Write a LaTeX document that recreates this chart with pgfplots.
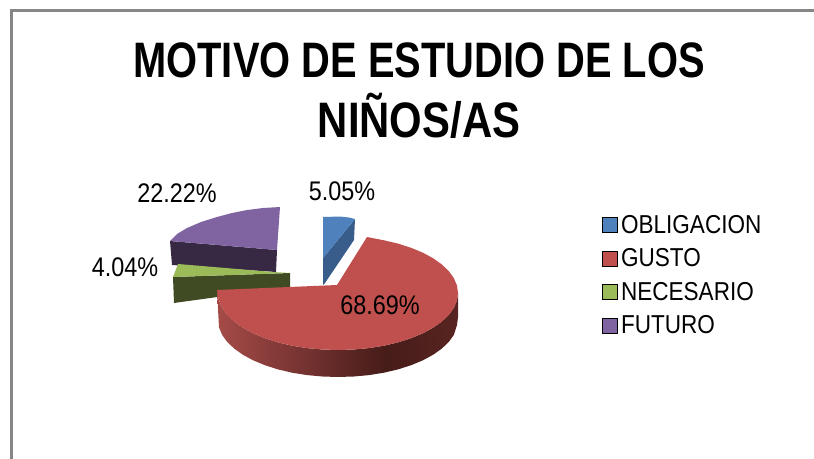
\documentclass[border=0pt]{standalone}
\usepackage{fontspec}
\setmainfont{Liberation Sans}
\newfontfamily\titlefont[FakeStretch=0.80]{Liberation Sans Bold}
\newfontfamily\titlefontb[FakeStretch=0.84]{Liberation Sans Bold}
\newfontfamily\labelfont[FakeStretch=0.87]{Liberation Sans}
\usepackage{pgfplots}
\pgfplotsset{compat=1.18}
\definecolor{frame}{RGB}{134,134,134}
\definecolor{azul}{RGB}{79,129,189}
\definecolor{azulosc}{RGB}{56,93,138}
\definecolor{rojo}{RGB}{192,80,77}
\definecolor{verde}{RGB}{155,187,89}
\definecolor{verdeosc}{RGB}{64,75,35}
\definecolor{morado}{RGB}{128,100,162}
\definecolor{moradoosc}{RGB}{55,40,68}
\definecolor{pared1}{RGB}{165,75,72}
\definecolor{pared2}{RGB}{120,52,50}
\definecolor{pared3}{RGB}{70,28,25}
\definecolor{pared4}{RGB}{88,36,33}
\pgfdeclarehorizontalshading{paredroja}{100bp}{
  color(0bp)=(pared1);
  color(25bp)=(pared1);
  color(42bp)=(pared2);
  color(60bp)=(pared3);
  color(75bp)=(pared4);
  color(100bp)=(pared4)}
\begin{document}
\begin{tikzpicture}
\begin{axis}[
    hide axis,
    scale only axis,
    width=814bp,
    height=459bp,
    xmin=0, xmax=814,
    ymin=0, ymax=459,
    y dir=reverse,
    legend cell align=left,
    legend style={
        at={(axis cs:601.5,213)},
        anchor=north west,
        draw=none,
        fill=none,
        inner sep=0pt,
        font=\labelfont\fontsize{26}{28}\selectfont,
        row sep=10pt,
    },
    legend image code/.code={\fill[#1] (0bp,-7.5bp) rectangle (15bp,7.5bp);\path (17bp,0bp);},
]
\path (axis cs:0,0) rectangle (axis cs:814,459);
% marco
\addplot[frame,line width=3bp,forget plot] coordinates {(11.5,459) (11.5,10.5) (814,10.5)};
% FUTURO
\addplot[fill=moradoosc,draw=none,forget plot] coordinates {(170,241) (172,265) (276,272) (277,250)};
\addplot[fill=morado,draw=none,forget plot] coordinates {(280,207) (263,208) (247,210) (232,213) (217,217) (201,222) (187,228) (177,234) (170,241) (277,250)};
% NECESARIO
\addplot[fill=verdeosc,draw=none,forget plot] coordinates {(173,277) (174,303) (290,287) (290,273)};
\addplot[fill=verde,draw=none,forget plot] coordinates {(178,264) (173,277) (290,273) (273,272)};
% OBLIGACION
\addplot[fill=azulosc,draw=none,forget plot] coordinates {(355,219) (354,240) (325,283) (323,285) (323,258)};
\addplot[fill=azul,draw=none,forget plot] coordinates {(323,217) (340,216.5) (349,217.5) (355,219) (323,258)};
% GUSTO
\addplot[shade,shading=paredroja,draw=none,forget plot] coordinates {
  (458,293) (457,300.4) (453.9,307.8) (448.9,314.8) (441.9,321.5) (433.2,327.7)
  (422.9,333.3) (411.1,338.2) (398,342.4) (383.9,345.7) (369.1,348.1) (353.7,349.5)
  (338,350) (322.3,349.5) (306.9,348.1) (292.1,345.7) (278,342.4) (264.9,338.2)
  (253.1,333.3) (242.8,327.7) (234.1,321.5) (227.1,314.8) (222.1,307.8) (219,300.4)
  (217,290)
  (219,327.4) (222.1,334.8) (227.1,341.8) (234.1,348.5) (242.8,354.7) (253.1,360.3)
  (264.9,365.2) (278,369.4) (292.1,372.7) (306.9,375.1) (322.3,376.5) (338,377)
  (353.7,376.5) (369.1,375.1) (383.9,372.7) (398,369.4) (411.1,365.2) (422.9,360.3)
  (433.2,354.7) (441.9,348.5) (448.9,341.8) (453.9,334.8) (457,325) (458,317)};
\addplot[fill=rojo,draw=none,forget plot] coordinates {
  (337,285) (367,237) (383.9,240.3) (398,243.6) (411.1,247.8) (422.9,252.7) (433.2,258.3)
  (441.9,264.5) (448.9,271.2) (453.9,278.2) (457,285.6) (458,293) (457,300.4)
  (453.9,307.8) (448.9,314.8) (441.9,321.5) (433.2,327.7) (422.9,333.3) (411.1,338.2)
  (398,342.4) (383.9,345.7) (369.1,348.1) (353.7,349.5) (338,350) (322.3,349.5)
  (306.9,348.1) (292.1,345.7) (278,342.4) (264.9,338.2) (253.1,333.3) (242.8,327.7)
  (234.1,321.5) (227.1,314.8) (222.1,307.8) (219,300.4) (217,290)};
% leyenda
\addlegendimage{fill=azul}
\addlegendentry{OBLIGACION}
\addlegendimage{fill=rojo}
\addlegendentry{GUSTO}
\addlegendimage{fill=verde}
\addlegendentry{NECESARIO}
\addlegendimage{fill=morado}
\addlegendentry{FUTURO}
% titulo
\node[font=\titlefont\fontsize{50}{52}\selectfont,anchor=base] at (axis cs:419,78) {MOTIVO DE ESTUDIO DE LOS};
\node[font=\titlefontb\fontsize{50}{52}\selectfont,anchor=base] at (axis cs:419,137) {NIÑOS/AS};
% etiquetas
\node[font=\labelfont\fontsize{27}{29}\selectfont] at (axis cs:177,193) {22.22\%};
\node[font=\labelfont\fontsize{27}{29}\selectfont] at (axis cs:342,191) {5.05\%};
\node[font=\labelfont\fontsize{27}{29}\selectfont] at (axis cs:125,267) {4.04\%};
\node[font=\labelfont\fontsize{27}{29}\selectfont] at (axis cs:380,305) {68.69\%};
\end{axis}
\end{tikzpicture}
\end{document}
